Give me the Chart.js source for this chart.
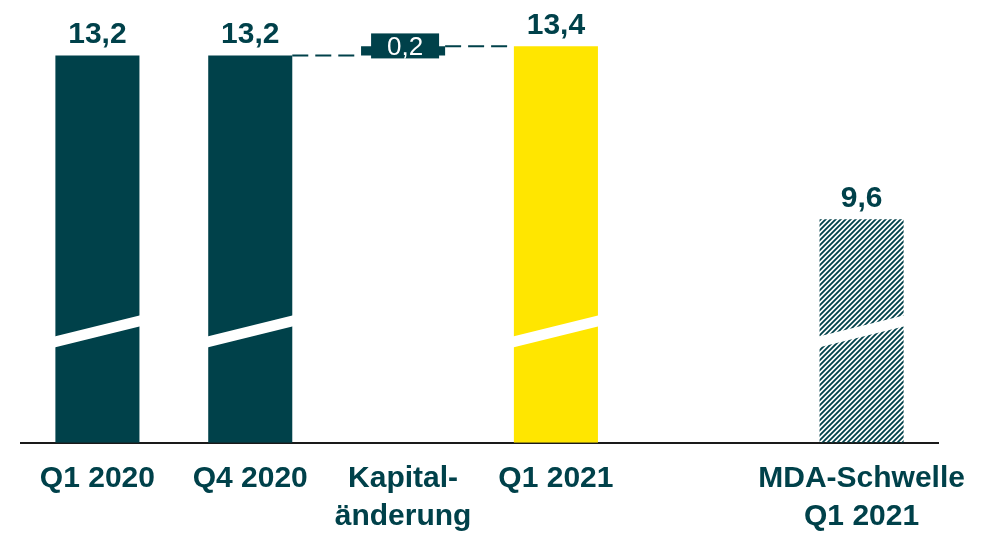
<!DOCTYPE html>
<html>
<head>
<meta charset="utf-8">
<script src="https://cdn.jsdelivr.net/npm/chart.js@4.4.1/dist/chart.umd.min.js"></script>
<style>
html, body { margin: 0; background: #fff; }
#wrap { width: 989px; height: 533px; }
</style>
</head>
<body>
<div id="wrap"><canvas id="chart"></canvas></div>
<script>
const categories = ['Q1 2020', 'Q4 2020', ['Kapital-', 'änderung'], 'Q1 2021', '', ['MDA-Schwelle', 'Q1 2021']];
const values = [13.2, 13.2, 0.2, 13.4, null, 9.6];
const kinds = ['total', 'total', 'delta', 'total', null, 'threshold'];
const valueLabels = ['13,2', '13,2', '0,2', '13,4', '', '9,6'];

// broken axis: bars start at axisMin, white break drawn at breakValue
const axisMin = 4.68;
const axisMax = 14.2;
const breakValue = 7.13;

const teal = '#00414a';
const yellow = '#ffe600';

function hatch(color) {
    const p = document.createElement('canvas');
    p.width = 5; p.height = 5;
    const c = p.getContext('2d');
    c.strokeStyle = color;
    c.lineWidth = 1.8;
    c.beginPath();
    c.moveTo(0, 5); c.lineTo(5, 0);
    c.moveTo(-2.5, 2.5); c.lineTo(2.5, -2.5);
    c.moveTo(2.5, 7.5); c.lineTo(7.5, 2.5);
    c.stroke();
    return c.createPattern(p, 'repeat');
}

const barData = values.map((v, i) => {
    if (v === null) return null;
    if (kinds[i] === 'delta') return [values[i - 1], values[i - 1] + v];
    return [axisMin, v];
});
const barColors = kinds.map(k => k === 'threshold' ? hatch(teal) : teal);
barColors[3] = yellow;

const decor = {
    id: 'decor',
    afterDatasetsDraw(chart) {
        const ctx = chart.ctx;
        const y = chart.scales.y;
        const bars = chart.getDatasetMeta(0).data;
        ctx.save();

        // axis breaks
        bars.forEach((b, i) => {
            if (kinds[i] !== 'total' && kinds[i] !== 'threshold') return;
            const l = b.x - b.width / 2 - 1;
            const r = b.x + b.width / 2 + 1;
            const yc = y.getPixelForValue(breakValue);
            const rise = b.width * 0.126;
            ctx.fillStyle = '#fff';
            ctx.beginPath();
            ctx.moveTo(l, yc + rise - 5.5);
            ctx.lineTo(r, yc - rise - 5.5);
            ctx.lineTo(r, yc - rise + 5.5);
            ctx.lineTo(l, yc + rise + 5.5);
            ctx.closePath();
            ctx.fill();
        });

        // connectors + delta box
        bars.forEach((b, i) => {
            if (kinds[i] !== 'delta') return;
            const prev = bars[i - 1], next = bars[i + 1];
            ctx.strokeStyle = teal;
            ctx.lineWidth = 2;
            ctx.setLineDash([16, 7]);
            let yy = y.getPixelForValue(values[i - 1]);
            ctx.beginPath();
            ctx.moveTo(prev.x + prev.width / 2, yy);
            ctx.lineTo(b.x - b.width / 2, yy);
            ctx.stroke();
            yy = y.getPixelForValue(values[i - 1] + values[i]);
            ctx.beginPath();
            ctx.moveTo(b.x + b.width / 2, yy);
            ctx.lineTo(next.x - next.width / 2, yy);
            ctx.stroke();
            ctx.setLineDash([]);

            const cy = (b.y + b.base) / 2 - 5;
            ctx.fillStyle = teal;
            ctx.fillRect(b.x + 2 - 34, cy - 12.5, 68, 25);
            ctx.fillStyle = '#fff';
            ctx.font = '26px "Liberation Sans", Arial, sans-serif';
            ctx.textAlign = 'center';
            ctx.textBaseline = 'middle';
            ctx.fillText(valueLabels[i], b.x + 2, cy + 2);
        });

        // value labels
        ctx.fillStyle = teal;
        ctx.font = 'bold 30px "Liberation Sans", Arial, sans-serif';
        ctx.textAlign = 'center';
        ctx.textBaseline = 'alphabetic';
        bars.forEach((b, i) => {
            if (kinds[i] !== 'total' && kinds[i] !== 'threshold') return;
            ctx.fillText(valueLabels[i], b.x, b.y - 12);
        });
        ctx.restore();
    }
};

new Chart(document.getElementById('chart'), {
    type: 'bar',
    data: {
        labels: categories,
        datasets: [{
            data: barData,
            backgroundColor: barColors,
            borderWidth: 0,
            barPercentage: 0.55,
            categoryPercentage: 1
        }]
    },
    options: {
        responsive: true,
        maintainAspectRatio: false,
        animation: false,
        layout: { padding: { left: 21, right: 51, top: 10, bottom: -20 } },
        plugins: {
            legend: { display: false },
            tooltip: { enabled: false }
        },
        scales: {
            x: {
                grid: { display: false, drawTicks: false },
                border: { display: true, color: '#1a1a1a', width: 2 },
                ticks: {
                    color: teal,
                    padding: 17,
                    maxRotation: 0,
                    autoSkip: false,
                    font: { family: '"Liberation Sans", Arial, sans-serif', size: 30, weight: 'bold', lineHeight: 1.27 }
                }
            },
            y: {
                display: false,
                min: axisMin,
                max: axisMax
            }
        }
    },
    plugins: [decor]
});
</script>
</body>
</html>
